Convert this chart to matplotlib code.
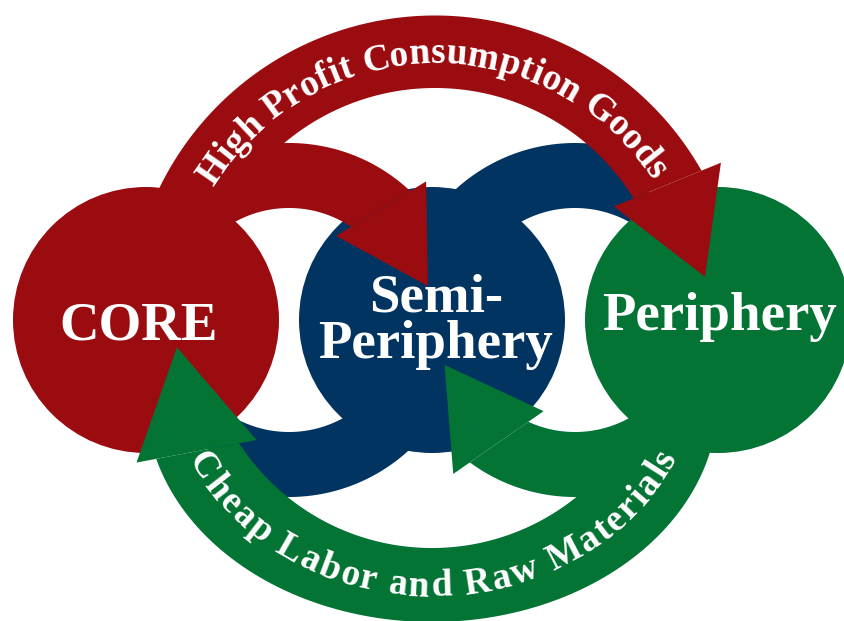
import numpy as np
import matplotlib
matplotlib.use("Agg")
import matplotlib.pyplot as plt
from matplotlib.patches import Polygon, Circle
from matplotlib.font_manager import FontProperties, findfont, get_font

# ---------------- data (labels / categories) ----------------
node_labels = ["CORE", "Semi-\nPeriphery", "Periphery"]
node_colors = ["#9B0C10", "#023462", "#047435"]
flow_labels = ["High Profit Consumption Goods", "Cheap Labor and Raw Materials"]
text_color = "white"

# ---------------- layout (pixel space, y down) ----------------
W, H, DPI = 845, 621, 100
node_x = [146, 432, 718]
node_y = 320
node_r = 133
label_pos = [(139, 340), (436, 358), (720, 330)]   # baseline of last line
label_size = 39.5
label_linespacing = 0.92

gap1 = (289, 320)
gap2 = (575, 320)
ring_in, ring_out, ring_mid = 112, 177, 144.5

fp_bold = FontProperties(family="Liberation Serif", weight="bold")

fig = plt.figure(figsize=(W / DPI, H / DPI), dpi=DPI)
fig.patch.set_facecolor("white")
ax = fig.add_axes([0, 0, 1, 1])
ax.set_xlim(0, W)
ax.set_ylim(H, 0)
ax.axis("off")


def ell(spec, th):
    (cx, cy), a, b = spec
    t = np.radians(np.atleast_1d(th))
    return np.column_stack([cx + a * np.cos(t), cy - b * np.sin(t)])


def edge_until(spec, th0, thb, m, d):
    sgn = np.sign(thb - th0)
    ths = np.linspace(th0, thb + sgn * 45, 1500)
    P = ell(spec, ths)
    s = (P - m) @ d
    idx = np.where((s[:-1] <= 0) & (s[1:] > 0))[0]
    best = None
    for i in idx:
        f = s[i] / (s[i] - s[i + 1])
        q = P[i] + f * (P[i + 1] - P[i])
        dist = np.linalg.norm(q - m)
        if best is None or dist < best[0]:
            best = (dist, i, q)
    _, i, q = best
    return np.vstack([P[: i + 1], q])


def arrow_band(outer, inner, mid, th0, thb, tht, tip_scale, hw, color, z):
    m = ell(mid, thb)[0]
    (cx, cy), a, b = mid
    tip = ell(((cx, cy), a * tip_scale, b * tip_scale), tht)[0]
    d = tip - m
    d = d / np.linalg.norm(d)
    n = np.array([-d[1], d[0]])
    eo = edge_until(outer, th0, thb, m, d)
    ei = edge_until(inner, th0, thb, m, d)
    ax.add_patch(Polygon(np.vstack([eo, ei[::-1]]), closed=True,
                         facecolor=color, edgecolor="none", zorder=z))
    ax.add_patch(Polygon([m + hw * n, tip, m - hw * n], closed=True,
                         facecolor=color, edgecolor="none", zorder=z))


def plain_band(c, r_in, r_out, th0, th1, color, z):
    ths = np.linspace(th0, th1, 400)
    po = ell((c, r_out, r_out), ths)
    pi = ell((c, r_in, r_in), ths)
    ax.add_patch(Polygon(np.vstack([po, pi[::-1]]), closed=True,
                         facecolor=color, edgecolor="none", zorder=z))


def advances(text, fp, size_pt):
    font = get_font(findfont(fp))
    font.set_size(size_pt, DPI)
    try:
        from matplotlib.ft2font import LoadFlags
        flag = LoadFlags.NO_HINTING
    except Exception:
        from matplotlib.ft2font import LOAD_NO_HINTING as flag
    out = []
    for ch in text:
        g = font.load_char(ord(ch), flags=flag)
        out.append(g.linearHoriAdvance / 65536.0)
    return np.array(out)


def curved_text(text, mid, th_first, th_last, size_pt, color, z, k=0.30):
    ths = np.linspace(th_first, th_last, 3000)
    P = ell(mid, ths)
    S = np.concatenate([[0], np.cumsum(np.linalg.norm(np.diff(P, axis=0), axis=1))])
    L = S[-1]
    adv = advances(text, fp_bold, size_pt)
    cum = np.concatenate([[0], np.cumsum(adv)])
    cen = cum[:-1] + adv / 2
    span = cen[-1] - cen[0]
    track = (L - span) / (len(text) - 1)
    fs_px = size_pt * DPI / 72.0
    for i, ch in enumerate(text):
        if ch == " ":
            continue
        s = (cen[i] - cen[0]) + i * track
        x = np.interp(s, S, P[:, 0])
        y = np.interp(s, S, P[:, 1])
        x2 = np.interp(min(s + 1, L), S, P[:, 0]); y2 = np.interp(min(s + 1, L), S, P[:, 1])
        x1 = np.interp(max(s - 1, 0), S, P[:, 0]); y1 = np.interp(max(s - 1, 0), S, P[:, 1])
        alpha = np.degrees(np.arctan2(-(y2 - y1), x2 - x1))
        ar = np.radians(alpha)
        bx = x + k * fs_px * np.sin(ar)
        by = y + k * fs_px * np.cos(ar)
        ax.text(bx, by, ch, rotation=alpha, rotation_mode="anchor",
                ha="center", va="baseline", fontproperties=fp_bold,
                fontsize=size_pt, color=color, zorder=z)


red, navy, green = node_colors

# blue linking bands (drawn first, partly hidden)
plain_band(gap1, ring_in, ring_out, -5, -122, navy, 1)
plain_band(gap2, ring_in, ring_out, 175, 60, navy, 1)

# three world-system circles
for x, col in zip(node_x, node_colors):
    ax.add_patch(Circle((x, node_y), node_r, facecolor=col, edgecolor="none", zorder=2))

# inner arrows
ring1 = (gap1, ring_out, ring_out), (gap1, ring_in, ring_in), (gap1, ring_mid, ring_mid)
arrow_band(*ring1, 150, 50.4, 13.7, 0.99, 52.6, red, 3)
ring2 = (gap2, ring_out, ring_out), (gap2, ring_in, ring_in), (gap2, ring_mid, ring_mid)
arrow_band(*ring2, -20, -122, -161, 0.955, 55, green, 3)

# big outer arrows
top_c = (435, 322)
arrow_band((top_c, 306.5, 306.5), (top_c, 234, 234), (top_c, 270, 270),
           160, 30.6, 9.5, 1.014, 57.8, red, 4)
arrow_band(((432, 400), 286, 222), ((432, 318), 230, 230), ((432, 359), 258, 226),
           0, -155.9, 177, 0.99, 61, green, 4)

# curved flow labels
curved_text(flow_labels[0], (top_c, 270, 270), 145.4, 34.6, 27, text_color, 6)
curved_text(flow_labels[1], ((432, 359), 258, 226), -152, -26, 27, text_color, 6)

# node labels
for lab, (x, y) in zip(node_labels, label_pos):
    ax.text(x, y, lab, ha="center", va="baseline", multialignment="center",
            linespacing=label_linespacing, fontproperties=fp_bold,
            fontsize=label_size, color=text_color, zorder=6)

fig.savefig("out.png", dpi=DPI, facecolor="white")
